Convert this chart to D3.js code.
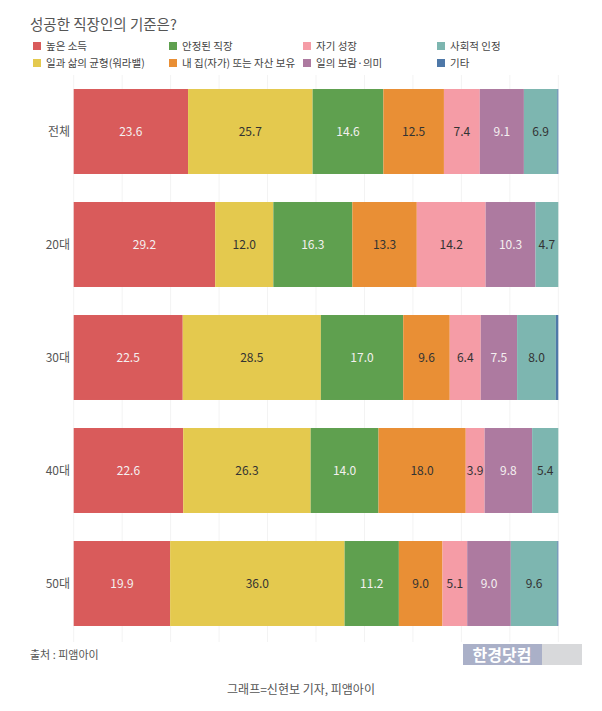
<!DOCTYPE html>
<html>
<head>
<meta charset="utf-8">
<script src="https://cdn.jsdelivr.net/npm/d3@7"></script>
<style>
  body { margin: 0; background: #fff; }
  svg { display: block; font-family: "Noto Sans CJK KR", "Noto Sans", sans-serif; }
</style>
</head>
<body>
<svg id="chart" width="602" height="711"></svg>
<script>
const groups = ["전체", "20대", "30대", "40대", "50대"];
const series = ["높은 소득", "일과 삶의 균형(워라밸)", "안정된 직장", "내 집(자가) 또는 자산 보유",
                "자기 성장", "일의 보람·의미", "사회적 인정", "기타"];
const colors = ["#d95b5b", "#e4c94e", "#5fa04f", "#e98f35", "#f59ca6", "#ad7aa0", "#7db6b0", "#4e78a8"];
const labelDark = [false, true, false, true, true, false, true, true];

// values per group, in series order
const income    = [23.6, 29.2, 22.5, 22.6, 19.9];
const balance   = [25.7, 12.0, 28.5, 26.3, 36.0];
const stable    = [14.6, 16.3, 17.0, 14.0, 11.2];
const assets    = [12.5, 13.3, 9.6, 18.0, 9.0];
const growth    = [7.4, 14.2, 6.4, 3.9, 5.1];
const meaning   = [9.1, 10.3, 7.5, 9.8, 9.0];
const respect   = [6.9, 4.7, 8.0, 5.4, 9.6];
const other     = [0.2, 0.0, 0.5, 0.0, 0.2];
const values = [income, balance, stable, assets, growth, meaning, respect, other];

// legend order (two rows, four columns)
const legendOrder = [0, 2, 4, 6, 1, 3, 5, 7];

const svg = d3.select("#chart");

svg.append("text")
  .attr("x", 30).attr("y", 30)
  .attr("font-size", 14.5).attr("fill", "#555")
  .text("성공한 직장인의 기준은?");

const legendX = [33, 169, 303, 437];
legendOrder.forEach((s, i) => {
  const col = i % 4, row = Math.floor(i / 4);
  const g = svg.append("g").attr("transform", `translate(${legendX[col]},${46 + row * 17})`);
  g.append("rect").attr("x", 0).attr("y", -4).attr("width", 8).attr("height", 8).attr("fill", colors[s]);
  g.append("text").attr("x", 13).attr("y", 4).attr("font-size", 10.5).attr("fill", "#444").text(series[s]);
});

const x = d3.scaleLinear().domain([0, 100]).range([73.7, 558.3]);
const y = d3.scaleBand().domain(groups).range([75, 640]).paddingInner(0.248).paddingOuter(0.124);

// faint gridlines
svg.append("g").selectAll("line")
  .data(d3.range(0, 101, 10))
  .join("line")
  .attr("x1", d => x(d)).attr("x2", d => x(d))
  .attr("y1", 75).attr("y2", 642)
  .attr("stroke", "#f3f3f3").attr("stroke-width", 1);

// stack data
const rows = groups.map((grp, gi) => {
  let acc = 0;
  return values.map((arr, si) => {
    const v = arr[gi];
    const seg = { group: grp, series: si, value: v, x0: acc, x1: acc + v };
    acc += v;
    return seg;
  });
});

const bars = svg.append("g");
rows.forEach(segs => {
  bars.selectAll(null)
    .data(segs.filter(d => d.value > 0))
    .join("rect")
    .attr("x", d => x(d.x0))
    .attr("y", d => y(d.group))
    .attr("width", d => x(d.x1) - x(d.x0))
    .attr("height", y.bandwidth())
    .attr("fill", d => colors[d.series]);

  bars.selectAll(null)
    .data(segs.filter(d => d.value >= 1 && d.series < 7))
    .join("text")
    .attr("x", d => (x(d.x0) + x(d.x1)) / 2)
    .attr("y", d => y(d.group) + y.bandwidth() / 2 + 4)
    .attr("text-anchor", "middle")
    .attr("font-size", 12)
    .attr("fill", d => labelDark[d.series] ? "#333" : "#f4f0f0")
    .text(d => d.value.toFixed(1));
});

// row labels
svg.append("g").selectAll("text")
  .data(groups)
  .join("text")
  .attr("x", 70)
  .attr("y", d => y(d) + y.bandwidth() / 2 + 4)
  .attr("text-anchor", "end")
  .attr("font-size", 12).attr("fill", "#555")
  .text(d => d);

// footer
svg.append("text")
  .attr("x", 30).attr("y", 659)
  .attr("font-size", 11).attr("fill", "#555")
  .text("출처 : 피앰아이");

svg.append("rect").attr("x", 463).attr("y", 644).attr("width", 79).attr("height", 21).attr("fill", "#aab0c8");
svg.append("rect").attr("x", 542).attr("y", 644).attr("width", 40).attr("height", 21).attr("fill", "#d8d9db");
svg.append("text")
  .attr("x", 502).attr("y", 661)
  .attr("text-anchor", "middle")
  .attr("font-size", 16).attr("font-weight", "bold").attr("fill", "#fff")
  .text("한경닷컴");

svg.append("text")
  .attr("x", 301).attr("y", 694)
  .attr("text-anchor", "middle")
  .attr("font-size", 12).attr("fill", "#555")
  .text("그래프=신현보 기자, 피앰아이");
</script>
</body>
</html>
